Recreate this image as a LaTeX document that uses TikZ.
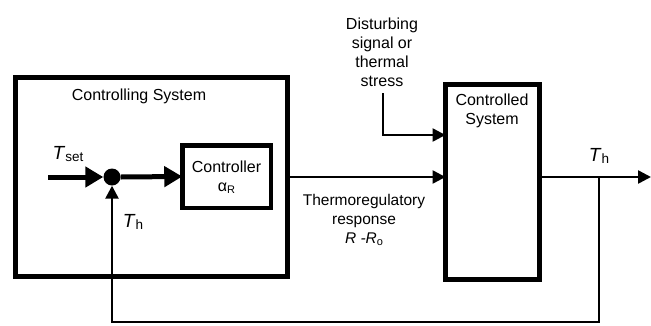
\documentclass[tikz,border=0pt]{standalone}
\usepackage{fontspec}
\setmainfont{Liberation Sans}
\usetikzlibrary{arrows.meta}
\newcommand{\subsc}[1]{\raisebox{-2pt}{\fontsize{13.5}{13.5}\selectfont #1}}
\newcommand{\smallsub}[1]{\raisebox{-2pt}{\fontsize{11}{11}\selectfont #1}}
\begin{document}
\begin{tikzpicture}[x=1pt,y=-1pt,
  box/.style={draw, line width=5pt, inner sep=0pt, outer sep=0pt},
  lbl/.style={font=\fontsize{16}{19}\selectfont, inner sep=0pt, align=center},
  sym/.style={font=\fontsize{19}{19}\selectfont, inner sep=0pt},
  thick arrow/.style={line width=5pt, -{Triangle[length=18pt,width=20pt]}},
  thin arrow/.style={line width=2.5pt, -{Triangle[length=13pt,width=13pt]}},
  thin line/.style={line width=2.5pt}]
\useasboundingbox (0,0) rectangle (651,325);
% boxes
\node[box, minimum width=272pt, minimum height=199pt] (outer) at (151.5,177) {};
\node[box, line width=4.5pt, minimum width=88.5pt, minimum height=62.5pt] (ctrl) at (226.5,176.5) {};
\node[box, minimum width=94pt, minimum height=195pt] (ctrld) at (492.5,182) {};
\node[circle, fill=black, minimum size=17pt, inner sep=0pt] (dot) at (112,177) {};
% texts
\node[lbl] (t1) at (139,96) {Controlling System};
\node[lbl] (t2) at (226.5,177) {Controller\\α\smallsub{R}};
\node[lbl] (t3) at (492,111) {Controlled\\System};
\node[lbl] (t4) at (382,52) {Disturbing\\signal or\\thermal\\stress};
\node[lbl, font=\fontsize{15.5}{19}\selectfont] (t5) at (364,220) {Thermoregulatory\\response\\\textit{R -R}\smallsub{o}};
\node[sym] (tset) at (68,154) {\textit{T}\subsc{set}};
\node[sym] (th1) at (133,222) {\textit{T}\subsc{h}};
\node[sym] (th2) at (599,156) {\textit{T}\subsc{h}};
% coordinates
\coordinate (tin) at (48,177);
\coordinate (outstart) at (ctrld.east |- dot);
\coordinate (outend) at (651,177);
\coordinate (tap) at (599,177);
\coordinate (fbcorner) at (599,322);
\coordinate (dtop) at (383,93);
\coordinate (dcorner) at (383,135);
% connectors
\draw[thick arrow] (tin) -- (dot.west);
\draw[thick arrow] (dot.east) -- (ctrl.west);
\draw[thin arrow] (outer.east) -- (outer.east -| ctrld.west);
\draw[thin arrow] (dtop) -- (dcorner) -- (dcorner -| ctrld.west);
\draw[thin arrow] (outstart) -- (outend);
\draw[thin arrow] (tap) -- (fbcorner) -| (dot.south);
\end{tikzpicture}
\end{document}
